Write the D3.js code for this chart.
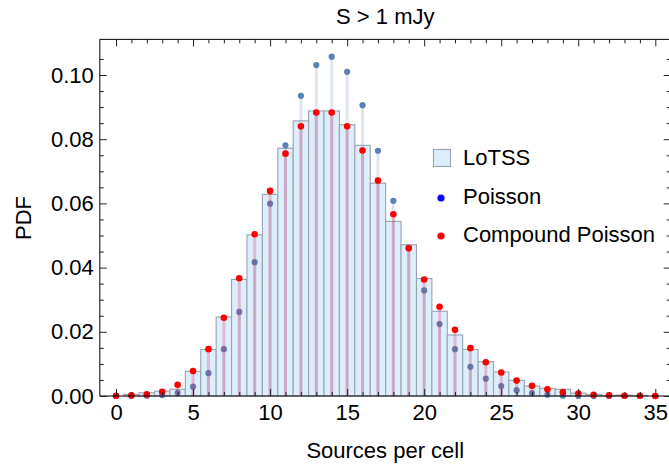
<!DOCTYPE html>
<html>
<head>
<meta charset="utf-8">
<script src="https://cdn.jsdelivr.net/npm/d3@7"></script>
<style>
  body { margin: 0; background: #fff; }
  svg { display: block; font-family: "Liberation Sans", Arial, sans-serif; }
</style>
</head>
<body>
<div id="chart"></div>
<script>
// sources per cell
const counts = d3.range(0, 36)

// LoTSS histogram (PDF)
const lotss = [0, 0.0005, 0.001, 0.0015, 0.0021, 0.0077, 0.0145, 0.0246, 0.0363, 0.0502,
  0.0628, 0.0772, 0.0857, 0.0888, 0.0888, 0.0845, 0.0781, 0.0663, 0.0544, 0.0471,
  0.0366, 0.0264, 0.0190, 0.0145, 0.0107, 0.0075, 0.0049, 0.0031, 0.0024, 0.0021,
  0.0009, 0.0004, 0.0002, 0.0003, 0.0001, 0]

// Poisson model
const poisson = [0, 0, 0.0001, 0.0003, 0.001, 0.0029, 0.0071, 0.0146, 0.0262, 0.0417,
  0.0599, 0.0781, 0.0935, 0.1031, 0.1057, 0.1010, 0.0906, 0.0764, 0.0608, 0.0462,
  0.0329, 0.0224, 0.0146, 0.0091, 0.0054, 0.0031, 0.0018, 0.0009, 0.0004, 0.0001,
  0, 0, 0, 0, 0, 0]

// Compound Poisson model
const compound = [0.0001, 0.0002, 0.0005, 0.0013, 0.0035, 0.0078, 0.0146, 0.0244, 0.0367, 0.0504,
  0.0639, 0.0755, 0.0840, 0.0883, 0.0883, 0.0840, 0.0765, 0.0671, 0.0566, 0.0460,
  0.0363, 0.0278, 0.0206, 0.0149, 0.0105, 0.0073, 0.0048, 0.0032, 0.0021, 0.0012,
  0.0008, 0.0004, 0.0002, 0.0001, 0.0001, 0]

const xMajor = [0, 5, 10, 15, 20, 25, 30, 35]
const yMajor = [0, 0.02, 0.04, 0.06, 0.08, 0.10]

const width = 669, height = 464
const fontSize = '22px'

const x = d3.scaleLinear().domain([0, 35]).range([116, 655.3])
const y = d3.scaleLinear().domain([0, 0.1]).range([396, 75])
const x0 = x(-1.05), x1 = x(36), yTop = y(0.1111), yBot = y(0)

const svg = d3.select('#chart').append('svg')
  .attr('width', width)
  .attr('height', height)

// histogram bars
svg.append('g')
  .selectAll('rect')
  .data(counts.filter(k => lotss[k] > 0))
  .enter()
  .append('rect')
  .attr('x', k => x(k - 0.5))
  .attr('width', k => x(k + 0.5) - x(k - 0.5))
  .attr('y', k => y(lotss[k]))
  .attr('height', k => yBot - y(lotss[k]))
  .attr('fill', '#deedfb')
  .attr('stroke', '#97a3b0')
  .attr('stroke-width', 1.1)

// poisson stems and points
svg.append('g')
  .selectAll('line')
  .data(counts)
  .enter()
  .append('line')
  .attr('x1', k => x(k)).attr('x2', k => x(k))
  .attr('y1', yBot).attr('y2', k => y(poisson[k]))
  .attr('stroke', '#5e81b5')
  .attr('stroke-opacity', 0.2)
  .attr('stroke-width', 3)

svg.append('g')
  .selectAll('circle')
  .data(counts)
  .enter()
  .append('circle')
  .attr('cx', k => x(k))
  .attr('cy', k => y(poisson[k]))
  .attr('r', 3.1)
  .attr('fill', '#5e81b5')

// compound poisson stems and points
svg.append('g')
  .selectAll('line')
  .data(counts)
  .enter()
  .append('line')
  .attr('x1', k => x(k)).attr('x2', k => x(k))
  .attr('y1', yBot).attr('y2', k => y(compound[k]))
  .attr('stroke', '#e0204a')
  .attr('stroke-opacity', 0.25)
  .attr('stroke-width', 3)

svg.append('g')
  .selectAll('circle')
  .data(counts)
  .enter()
  .append('circle')
  .attr('cx', k => x(k))
  .attr('cy', k => y(compound[k]))
  .attr('r', 3.3)
  .attr('fill', '#ff0000')

// frame with inward ticks
const frame = svg.append('g').attr('stroke', '#000')
frame.append('line').attr('x1', x0).attr('x2', x1).attr('y1', yBot).attr('y2', yBot)
frame.append('line').attr('x1', x0).attr('x2', x1).attr('y1', yTop).attr('y2', yTop)
frame.append('line').attr('x1', x0).attr('x2', x0).attr('y1', yTop).attr('y2', yBot)
frame.append('line').attr('x1', x1).attr('x2', x1).attr('y1', yTop).attr('y2', yBot)

function styleAxis(g) {
  g.select('.domain').remove()
  g.selectAll('.tick line').attr('stroke', '#222').attr('stroke-width', 1)
  g.selectAll('.tick text').attr('fill', '#000').style('font-size', fontSize)
}

const xMinor = counts.filter(k => k % 5 !== 0)
const yMinor = d3.range(1, 22).map(i => i * 0.005).filter(v => Math.round(v * 1000) % 20 !== 0)

svg.append('g')
  .attr('transform', `translate(0,${yBot})`)
  .call(d3.axisBottom(x).tickValues(xMajor).tickSize(-7).tickPadding(8).tickFormat(d3.format('d')))
  .call(styleAxis)
svg.append('g')
  .attr('transform', `translate(0,${yBot})`)
  .call(d3.axisBottom(x).tickValues(xMinor).tickSize(-4).tickFormat(''))
  .call(styleAxis)
svg.append('g')
  .attr('transform', `translate(0,${yTop})`)
  .call(d3.axisTop(x).tickValues(xMajor).tickSize(-7).tickFormat(''))
  .call(styleAxis)
svg.append('g')
  .attr('transform', `translate(0,${yTop})`)
  .call(d3.axisTop(x).tickValues(xMinor).tickSize(-4).tickFormat(''))
  .call(styleAxis)

svg.append('g')
  .attr('transform', `translate(${x0},0)`)
  .call(d3.axisLeft(y).tickValues(yMajor).tickSize(-7).tickPadding(6).tickFormat(d3.format('.2f')))
  .call(styleAxis)
svg.append('g')
  .attr('transform', `translate(${x0},0)`)
  .call(d3.axisLeft(y).tickValues(yMinor).tickSize(-4).tickFormat(''))
  .call(styleAxis)
svg.append('g')
  .attr('transform', `translate(${x1},0)`)
  .call(d3.axisRight(y).tickValues(yMajor).tickSize(-7).tickFormat(''))
  .call(styleAxis)
svg.append('g')
  .attr('transform', `translate(${x1},0)`)
  .call(d3.axisRight(y).tickValues(yMinor).tickSize(-4).tickFormat(''))
  .call(styleAxis)

// title and axis labels
svg.append('text')
  .attr('x', (x0 + x1) / 2).attr('y', 24)
  .attr('text-anchor', 'middle')
  .style('font-size', fontSize)
  .text('S > 1 mJy')

svg.append('text')
  .attr('x', (x0 + x1) / 2).attr('y', 458)
  .attr('text-anchor', 'middle')
  .style('font-size', fontSize)
  .text('Sources per cell')

svg.append('text')
  .attr('transform', 'translate(31,218) rotate(-90)')
  .attr('text-anchor', 'middle')
  .style('font-size', fontSize)
  .text('PDF')

// legend
const legend = svg.append('g').attr('transform', 'translate(433,0)')
legend.append('rect')
  .attr('x', 0.5).attr('y', 149.5).attr('width', 17).attr('height', 17)
  .attr('fill', '#deedfb').attr('stroke', '#97a3b0').attr('stroke-width', 1.1)
legend.append('circle').attr('cx', 8).attr('cy', 198).attr('r', 3.6).attr('fill', '#0000ff')
legend.append('circle').attr('cx', 8).attr('cy', 236).attr('r', 3.6).attr('fill', '#ff0000')

const legendItems = [['LoTSS', 165], ['Poisson', 204], ['Compound Poisson', 242]]
legend.selectAll('text.item')
  .data(legendItems)
  .enter()
  .append('text')
  .attr('class', 'item')
  .attr('x', 30)
  .attr('y', d => d[1])
  .style('font-size', fontSize)
  .text(d => d[0])
</script>
</body>
</html>
